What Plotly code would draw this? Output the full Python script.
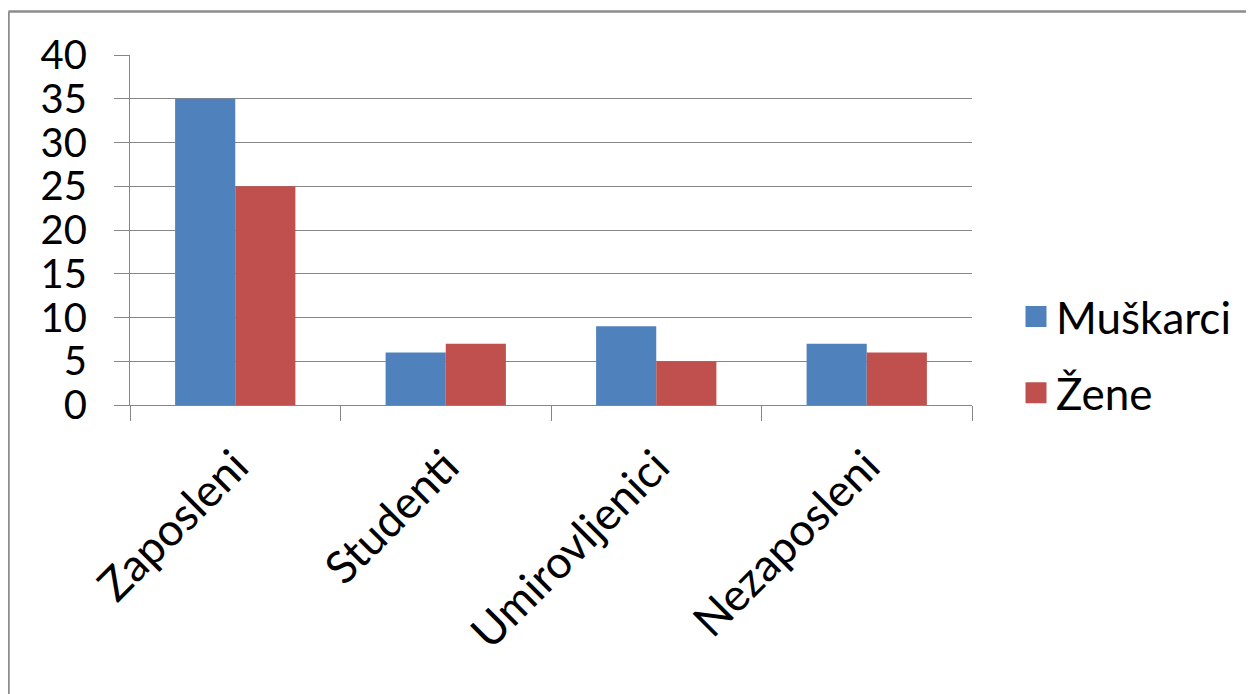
import plotly.graph_objects as go

categories = ["Zaposleni", "Studenti", "Umirovljenici", "Nezaposleni"]
muskarci = [35, 6, 9, 7]
zene = [25, 7, 5, 6]
y_ticks = [0, 5, 10, 15, 20, 25, 30, 35, 40]
series_names = ["Muškarci", "Žene"]
series_colors = ["#4F81BD", "#C0504D"]

OFF = 8  # page body margin
W, H = 1254 - OFF, 694 - OFF
L, R, T, B = 130 - OFF, 972 - OFF, 55 - OFF, 405 - OFF
pw, ph = R - L, B - T

def px_x(px):
    return (px - OFF - L) / pw

def px_y(py):
    return (B - (py - OFF)) / ph

FONT = "Lato"
GRID = "#868686"

fig = go.Figure()
for name, vals, col in zip(series_names, [muskarci, zene], series_colors):
    fig.add_trace(go.Bar(name=name, x=categories, y=vals, showlegend=False,
                         marker=dict(color=col, line=dict(width=0))))
# legend entries with larger square swatches
for name, col in zip(series_names, series_colors):
    fig.add_trace(go.Scatter(name=name, x=[None], y=[None], mode="markers",
                             showlegend=True, legendgroup=name,
                             marker=dict(symbol="square", size=16, color=col,
                                         line=dict(color=col, width=5))))

fig.update_layout(
    width=W, height=H,
    margin=dict(l=L, r=W - R, t=T, b=H - B, pad=0),
    paper_bgcolor="white", plot_bgcolor="white",
    barmode="group", bargap=1.5 / 3.5, bargroupgap=0,
    font=dict(family=FONT, size=40, color="black"),
    showlegend=True,
    legend=dict(x=px_x(1016), y=px_y(355), xanchor="left", yanchor="middle",
                font=dict(size=44, family=FONT), tracegroupgap=16,
                itemsizing="trace", bgcolor="rgba(0,0,0,0)"),
    shapes=[
        dict(type="line", xref="paper", yref="paper",
             x0=px_x(8.5), x1=px_x(8.5), y0=px_y(11.5), y1=px_y(H + 20),
             line=dict(color="#8c8c8c", width=2.5)),
        dict(type="line", xref="paper", yref="paper",
             x0=px_x(8.5), x1=px_x(W + 20), y0=px_y(11.5), y1=px_y(11.5),
             line=dict(color="#8c8c8c", width=2.5)),
    ],
)

fig.update_xaxes(
    type="category", tickangle=-45, tickson="boundaries",
    ticks="outside", ticklen=15, tickcolor=GRID, tickwidth=1,
    showline=True, linecolor=GRID, linewidth=1,
    showgrid=False, tickfont=dict(size=45, family=FONT), ticklabelstandoff=16,
)
fig.update_yaxes(
    range=[0, 40], tickvals=y_ticks, ticks="outside", ticklen=15,
    tickcolor=GRID, tickwidth=1, showline=True, linecolor=GRID, linewidth=1,
    showgrid=True, gridcolor=GRID, gridwidth=1, zeroline=False,
    tickfont=dict(size=40, family=FONT), ticklabelstandoff=19,
)

fig.write_html("out.html")
